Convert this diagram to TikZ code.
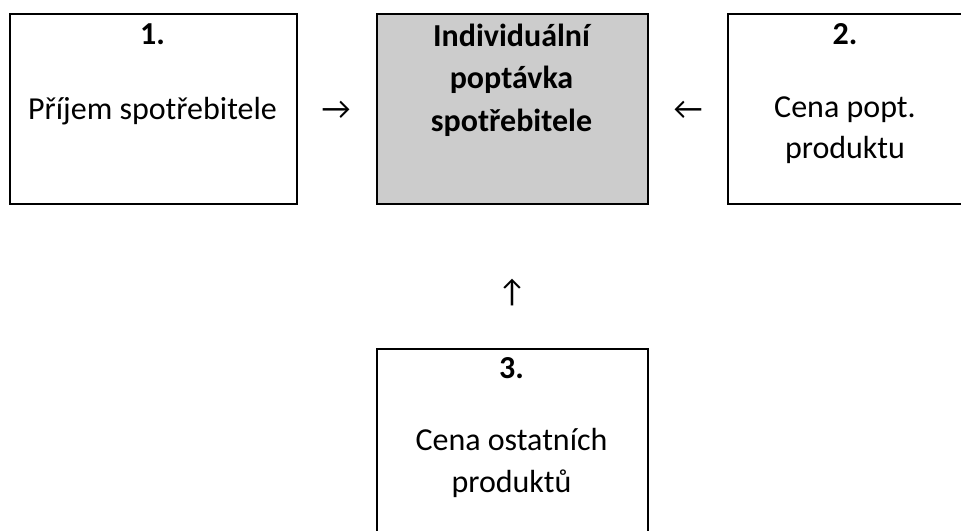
\documentclass[tikz,border=0pt]{standalone}
\usepackage{fontspec}
\setmainfont{Carlito}
\usepackage{tikz}
\definecolor{boxgray}{RGB}{204,204,204}

\begin{document}
\begin{tikzpicture}[x=0.75pt,y=0.75pt,yscale=-1,xscale=1,
  box/.style={draw=black,line width=1.5pt,anchor=north west,inner sep=0pt},
  lbl/.style={anchor=base,inner sep=0pt,font=\fontsize{24}{29}\selectfont},
  arr/.style={inner sep=0pt,font=\fontsize{24}{29}\selectfont}]
\useasboundingbox (0,0) rectangle (961,531);
\clip (0,0) rectangle (961,531);

% Boxes
\node[box,minimum width=215.25pt,minimum height=142.5pt] (income) at (9,13) {};
\node[box,fill=boxgray,minimum width=203.25pt,minimum height=142.5pt] (demand) at (376,13) {};
\node[box,minimum width=195pt,minimum height=142.5pt] (price) at (727,13) {};
\node[box,minimum width=203.25pt,minimum height=160pt] (others) at (376,348) {};

% Box 1
\node[lbl] (incomenum) at (152.5,45) {\bfseries 1.};
\node[lbl] (incometxt) at (152.5,120) {Příjem spotřebitele};
% Middle box
\node[lbl] (demand1) at (511.5,47) {\bfseries Individuální};
\node[lbl] (demand2) at (511.5,89) {\bfseries poptávka};
\node[lbl] (demand3) at (511.5,132) {\bfseries spotřebitele};
% Box 2
\node[lbl] (pricenum) at (845,45) {\bfseries 2.};
\node[lbl] (price1) at (845,118) {Cena popt.};
\node[lbl] (price2) at (845,159) {produktu};
% Box 3
\node[lbl] (othersnum) at (511.5,378) {\bfseries 3.};
\node[lbl] (others1) at (511.5,450) {Cena ostatních};
\node[lbl] (others2) at (511.5,492) {produktů};

% Arrows
\node[arr] (arrinc) at (336,110) {→};
\node[arr] (arrprice) at (688,110) {←};
\node[arr] (arrothers) at (512,293) {↑};

\end{tikzpicture}
\end{document}
